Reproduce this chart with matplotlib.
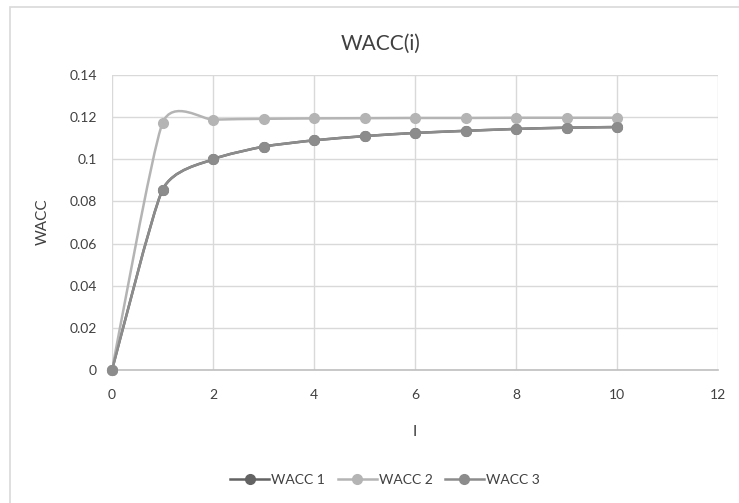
import matplotlib
matplotlib.use("Agg")
import matplotlib.pyplot as plt
from matplotlib.path import Path
from matplotlib.patches import PathPatch, Rectangle
from matplotlib.lines import Line2D

plt.rcParams['font.family'] = ['Lato', 'DejaVu Sans']

# data
periods = [0, 1, 2, 3, 4, 5, 6, 7, 8, 9, 10]
wacc_1 = [0, 0.0855, 0.1, 0.106, 0.109, 0.111, 0.1125, 0.1135, 0.1144, 0.115, 0.1153]
wacc_2 = [0, 0.1172, 0.1188, 0.1192, 0.1194, 0.1195, 0.1196, 0.1196, 0.1197, 0.1197, 0.1197]
wacc_3 = [0, 0.0855, 0.1, 0.106, 0.109, 0.111, 0.1125, 0.1135, 0.1144, 0.115, 0.1153]
series_names = ["WACC 1", "WACC 2", "WACC 3"]
series_colors = ["#636363", "#b4b4b4", "#8c8c8c"]


def smooth_path(xs, ys, t=0.1):
    # excel-like smoothed line: bezier segments through the points
    pts = list(zip(xs, ys))
    n = len(pts)
    verts = [pts[0]]
    codes = [Path.MOVETO]
    for i in range(n - 1):
        p0 = pts[max(i - 1, 0)]
        p1 = pts[i]
        p2 = pts[i + 1]
        p3 = pts[min(i + 2, n - 1)]
        c1 = (p1[0] + (p2[0] - p0[0]) * t, p1[1] + (p2[1] - p0[1]) * t)
        c2 = (p2[0] - (p3[0] - p1[0]) * t, p2[1] - (p3[1] - p1[1]) * t)
        verts += [c1, c2, p2]
        codes += [Path.CURVE4] * 3
    return Path(verts, codes)


fig = plt.figure(figsize=(7.39, 5.03), dpi=100)
ax = fig.add_axes([112 / 739, 1 - 370 / 503, 606 / 739, 295 / 503])

# chart border (cut off at right and bottom like the screenshot)
fig.patches.append(Rectangle((10 / 739, -0.05), 1.1, 1 - 7 / 503 + 0.05,
                             transform=fig.transFigure, fill=False,
                             edgecolor="#d9d9d9", linewidth=1.2))

handles = []
for ys, name, col in zip([wacc_1, wacc_2, wacc_3], series_names, series_colors):
    ax.add_patch(PathPatch(smooth_path(periods, ys), fill=False, edgecolor=col,
                           linewidth=1.8, zorder=3, capstyle="round"))
    ax.plot(periods, ys, linestyle="none", marker="o", markersize=7,
            color=col, zorder=4, clip_on=False)
    handles.append(Line2D([], [], color=col, linewidth=1.8, marker="o", markersize=7))

ax.set_xlim(0, 12)
ax.set_ylim(0, 0.14)
ax.set_xticks([0, 2, 4, 6, 8, 10, 12])
ax.set_yticks([0, 0.02, 0.04, 0.06, 0.08, 0.1, 0.12, 0.14])
ax.set_yticklabels(["0", "0.02", "0.04", "0.06", "0.08", "0.1", "0.12", "0.14"])
ax.tick_params(length=0, labelsize=10, labelcolor="#404040")
ax.tick_params(axis="x", pad=14)
ax.tick_params(axis="y", pad=11)
ax.grid(True, color="#d9d9d9", linewidth=1)
ax.set_axisbelow(True)
for s in ["top", "right", "left"]:
    ax.spines[s].set_visible(False)
ax.spines["bottom"].set_color("#bfbfbf")
ax.spines["bottom"].set_linewidth(1.2)

fig.text(381 / 739, 1 - 44 / 503, "WACC(i)", ha="center", va="center",
         fontsize=15, color="#404040")
fig.text(43 / 739, 1 - 222 / 503, "WACC", ha="center", va="center",
         rotation=90, fontsize=11, color="#404040")
fig.text(415 / 739, 1 - 432 / 503, "I", ha="center", va="center",
         fontsize=11, color="#404040")

fig.legend(handles, series_names, loc="center", bbox_to_anchor=(385 / 739, 1 - 480 / 503),
           ncol=3, frameon=False, fontsize=10, handlelength=2.8, columnspacing=0.9,
           handletextpad=0.15, labelcolor="#404040")

fig.savefig("out.png", dpi=100)
